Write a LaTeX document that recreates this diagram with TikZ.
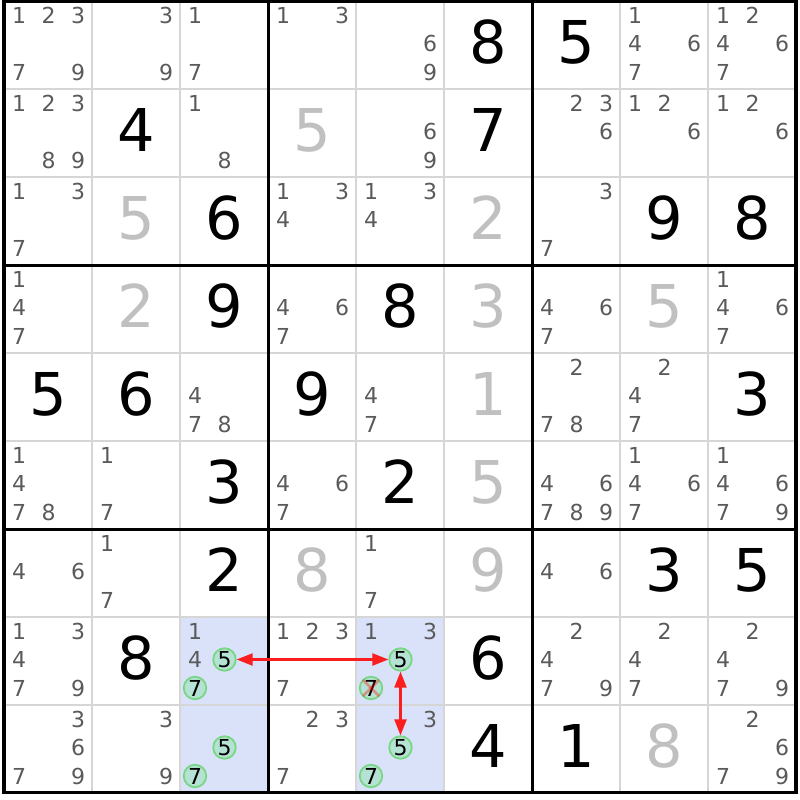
\documentclass[tikz,border=0pt]{standalone}
\usepackage{fontspec}
\setmainfont{DejaVu Sans}
\usetikzlibrary{arrows.meta}
\definecolor{candc}{RGB}{90,90,90}
\definecolor{solvedc}{RGB}{192,192,192}
\definecolor{thinc}{RGB}{214,214,214}
\definecolor{hlbg}{RGB}{218,226,250}
\definecolor{ringc}{RGB}{120,215,130}
\definecolor{ringfill}{RGB}{182,226,212}
\definecolor{arrc}{RGB}{250,30,30}
\tikzset{
  given/.style={inner sep=0pt, text=black, font=\fontsize{59}{59}\selectfont},
  solved/.style={inner sep=0pt, text=solvedc, font=\fontsize{59}{59}\selectfont},
  cand/.style={inner sep=0pt, text=candc, font=\fontsize{22}{22}\selectfont},
  ring/.style={circle, draw=ringc, line width=1.8pt, fill=ringfill, minimum size=22.5pt, inner sep=0pt, text=black, font=\fontsize{22}{22}\selectfont},
  thinline/.style={draw=thinc, line width=2pt},
  thickline/.style={draw=black, line width=3pt},
  chainarrow/.style={draw=arrc, line width=2.2pt, {Triangle[length=16pt,width=12pt]}-{Triangle[length=16pt,width=12pt]}},
  crossline/.style={draw=red, draw opacity=0.35, line width=2.5pt},
  hlcell/.style={fill=hlbg}
}
\newcommand\sdGiven[3]{\node[given] (g#1#2) at ({48+88*#2},{42+88*#1}) {#3};}
\newcommand\sdSolved[3]{\node[solved] (s#1#2) at ({48+88*#2},{42+88*#1}) {#3};}
\newcommand\sdCand[3]{\foreach \d in {#3}{%
  \pgfmathtruncatemacro\kk{mod(\d-1,3)}%
  \pgfmathtruncatemacro\jj{div(\d-1,3)}%
  \node[cand] (n#1#2\d) at ({19+88*#2+29.5*\kk},{15+88*#1+28.5*\jj}) {\d};}}
\newcommand\sdRing[4]{%
  \pgfmathtruncatemacro\kk{mod(#3-1,3)}%
  \pgfmathtruncatemacro\jj{div(#3-1,3)}%
  \node[ring] (#4) at ({19+88*#2+29.5*\kk},{15+88*#1+28.5*\jj}) {#3};}
\begin{document}
\begin{tikzpicture}[x=1pt,y=-1pt]
\useasboundingbox[fill=white] (0,0) rectangle (800,800);
% highlighted cells
\foreach \r/\c in {7/2,8/2,7/4,8/4}
  \fill[hlcell] ({4+88*\c},{1+88*\r}) rectangle ({4+88*(\c+1)},{1+88*(\r+1)});
% thin lines
\foreach \i in {1,2,4,5,7,8}{
  \draw[thinline] ({4+88*\i},1) -- ({4+88*\i},793);
  \draw[thinline] (4,{1+88*\i}) -- (796,{1+88*\i});
}
% thick lines
\foreach \i in {3,6}{
  \draw[thickline] ({4+88*\i},1) -- ({4+88*\i},793);
  \draw[thickline] (4,{1+88*\i}) -- (796,{1+88*\i});
}
\draw[thickline, line width=3.4pt] (4,1.5) rectangle (796,792.5);
% row 0
\sdCand{0}{0}{1,2,3,7,9} \sdCand{0}{1}{3,9} \sdCand{0}{2}{1,7}
\sdCand{0}{3}{1,3} \sdCand{0}{4}{6,9} \sdGiven{0}{5}{8}
\sdGiven{0}{6}{5} \sdCand{0}{7}{1,4,6,7} \sdCand{0}{8}{1,2,4,6,7}
% row 1
\sdCand{1}{0}{1,2,3,8,9} \sdGiven{1}{1}{4} \sdCand{1}{2}{1,8}
\sdSolved{1}{3}{5} \sdCand{1}{4}{6,9} \sdGiven{1}{5}{7}
\sdCand{1}{6}{2,3,6} \sdCand{1}{7}{1,2,6} \sdCand{1}{8}{1,2,6}
% row 2
\sdCand{2}{0}{1,3,7} \sdSolved{2}{1}{5} \sdGiven{2}{2}{6}
\sdCand{2}{3}{1,3,4} \sdCand{2}{4}{1,3,4} \sdSolved{2}{5}{2}
\sdCand{2}{6}{3,7} \sdGiven{2}{7}{9} \sdGiven{2}{8}{8}
% row 3
\sdCand{3}{0}{1,4,7} \sdSolved{3}{1}{2} \sdGiven{3}{2}{9}
\sdCand{3}{3}{4,6,7} \sdGiven{3}{4}{8} \sdSolved{3}{5}{3}
\sdCand{3}{6}{4,6,7} \sdSolved{3}{7}{5} \sdCand{3}{8}{1,4,6,7}
% row 4
\sdGiven{4}{0}{5} \sdGiven{4}{1}{6} \sdCand{4}{2}{4,7,8}
\sdGiven{4}{3}{9} \sdCand{4}{4}{4,7} \sdSolved{4}{5}{1}
\sdCand{4}{6}{2,7,8} \sdCand{4}{7}{2,4,7} \sdGiven{4}{8}{3}
% row 5
\sdCand{5}{0}{1,4,7,8} \sdCand{5}{1}{1,7} \sdGiven{5}{2}{3}
\sdCand{5}{3}{4,6,7} \sdGiven{5}{4}{2} \sdSolved{5}{5}{5}
\sdCand{5}{6}{4,6,7,8,9} \sdCand{5}{7}{1,4,6,7} \sdCand{5}{8}{1,4,6,7,9}
% row 6
\sdCand{6}{0}{4,6} \sdCand{6}{1}{1,7} \sdGiven{6}{2}{2}
\sdSolved{6}{3}{8} \sdCand{6}{4}{1,7} \sdSolved{6}{5}{9}
\sdCand{6}{6}{4,6} \sdGiven{6}{7}{3} \sdGiven{6}{8}{5}
% row 7
\sdCand{7}{0}{1,3,4,7,9} \sdGiven{7}{1}{8} \sdCand{7}{2}{1,4}
\sdRing{7}{2}{5}{a725} \sdRing{7}{2}{7}{a727}
\sdCand{7}{3}{1,2,3,7} \sdCand{7}{4}{1,3}
\sdRing{7}{4}{5}{a745} \sdRing{7}{4}{7}{a747}
\sdGiven{7}{5}{6}
\sdCand{7}{6}{2,4,7,9} \sdCand{7}{7}{2,4,7} \sdCand{7}{8}{2,4,7,9}
% row 8
\sdCand{8}{0}{3,6,7,9} \sdCand{8}{1}{3,9}
\sdRing{8}{2}{5}{a825} \sdRing{8}{2}{7}{a827}
\sdCand{8}{3}{2,3,7} \sdCand{8}{4}{3}
\sdRing{8}{4}{5}{a845} \sdRing{8}{4}{7}{a847}
\sdGiven{8}{5}{4} \sdGiven{8}{6}{1} \sdSolved{8}{7}{8} \sdCand{8}{8}{2,6,7,9}
% elimination cross
\draw[crossline] ([shift={(-8pt,-8pt)}]a747.center) -- ([shift={(8pt,8pt)}]a747.center);
\draw[crossline] ([shift={(-8pt,8pt)}]a747.center) -- ([shift={(8pt,-8pt)}]a747.center);
% chain arrows
\draw[chainarrow] (a725) -- (a745);
\draw[chainarrow] (a745) -- (a845);
\end{tikzpicture}
\end{document}
